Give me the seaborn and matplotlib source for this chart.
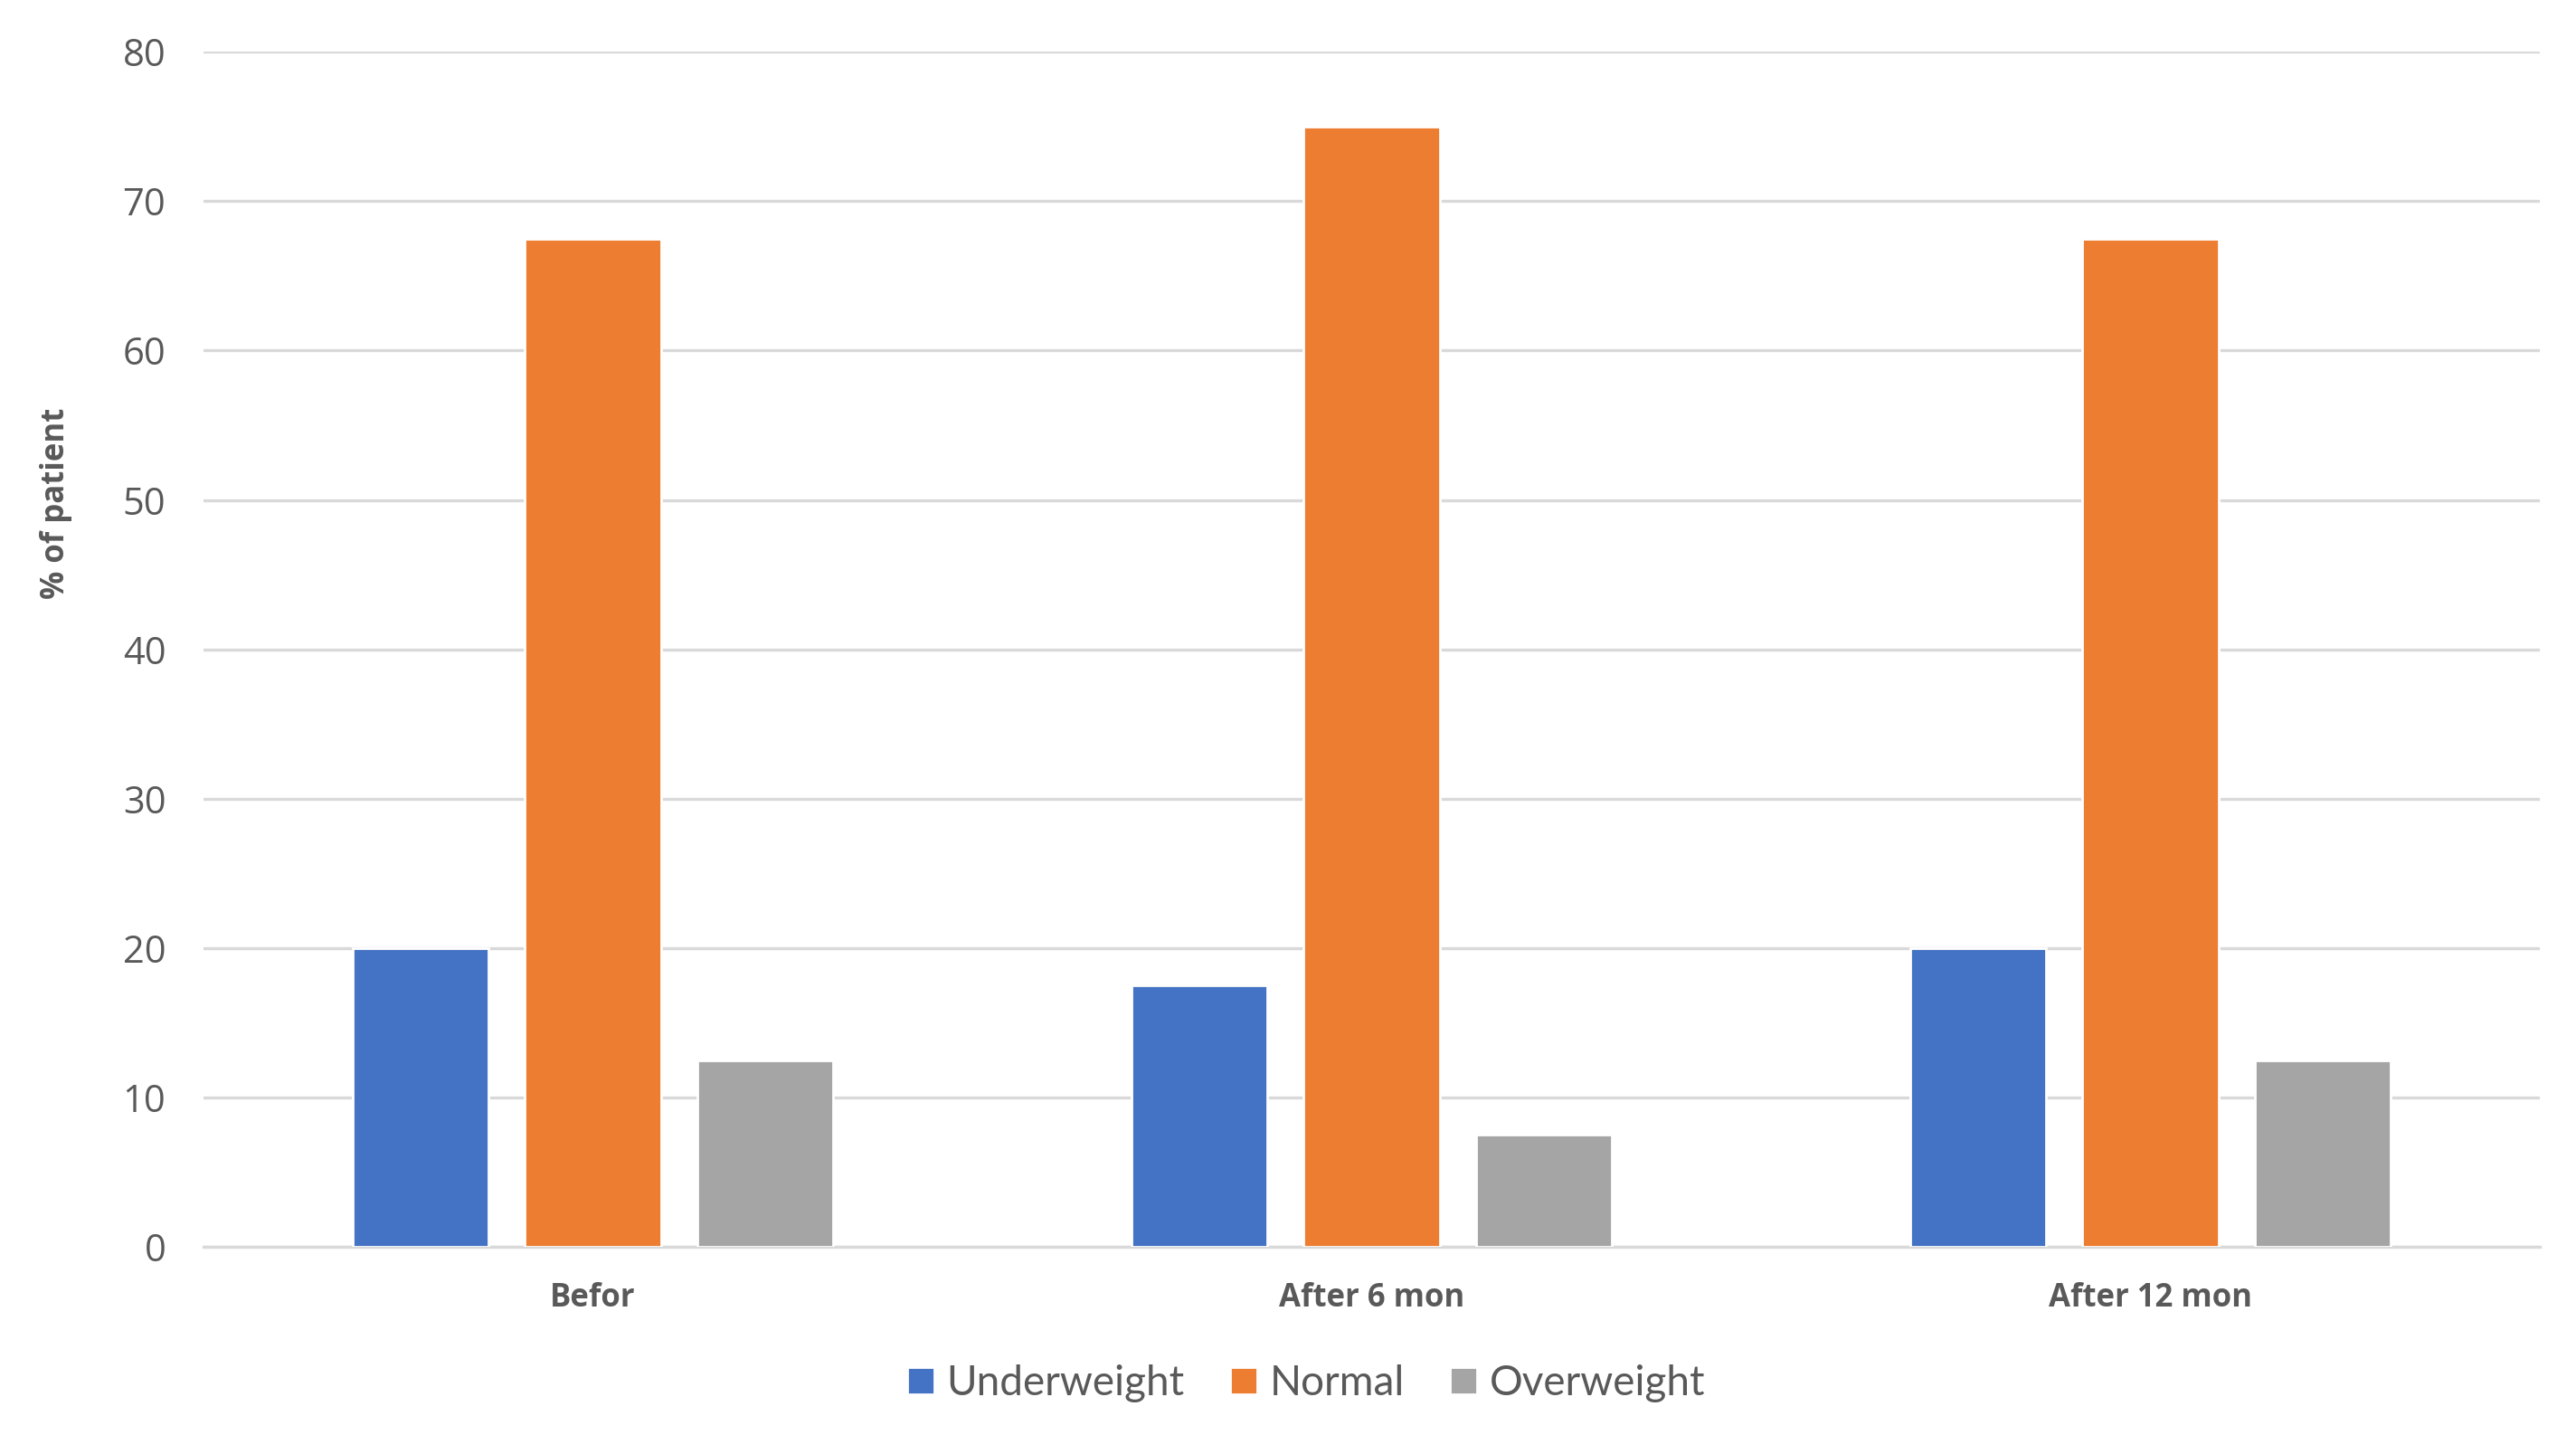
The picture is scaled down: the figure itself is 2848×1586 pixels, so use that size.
import pandas as pd
import matplotlib.pyplot as plt
import seaborn as sns

# Data
periods = ['Befor', 'After 6 mon', 'After 12 mon']
underweight = [20, 17.5, 20]
normal = [67.5, 75, 67.5]
overweight = [12.5, 7.5, 12.5]
groups = ['Underweight', 'Normal', 'Overweight']

df = pd.DataFrame({'Period': periods, 'Underweight': underweight,
                   'Normal': normal, 'Overweight': overweight})
df_melt = df.melt(id_vars='Period', value_vars=groups,
                  var_name='Group', value_name='Percent')

sns.set_style('white')
plt.rcParams['font.family'] = ['Open Sans', 'DejaVu Sans']

fig = plt.figure(figsize=(14.24, 7.93), dpi=200)
ax = fig.add_axes([0.079, 0.131, 0.907, 0.833])

sns.barplot(data=df_melt, x='Period', y='Percent', hue='Group',
            hue_order=groups, order=periods,
            palette=['#4472C4', '#ED7D31', '#A5A5A5'],
            width=0.664, gap=0.21, saturation=1, ax=ax, zorder=3)

ax.set_ylim(0, 80)
ax.set_yticks(range(0, 81, 10))
ax.set_xlim(-0.5, 2.5)
ax.grid(axis='y', color='#D9D9D9', linewidth=1.2, zorder=0)
for s in ['top', 'right', 'left']:
    ax.spines[s].set_visible(False)
ax.spines['bottom'].set_color('#D9D9D9')
ax.spines['bottom'].set_linewidth(1.2)

ax.tick_params(axis='y', length=0, pad=15, labelsize=15, labelcolor='#595959')
ax.tick_params(axis='x', length=0, pad=14, labelsize=12.5, labelcolor='#595959')
for lbl in ax.get_xticklabels():
    lbl.set_fontweight('bold')

ax.set_xlabel('')
ax.set_ylabel('% of patient', fontsize=12.5, fontweight='bold', color='#595959')
ax.yaxis.set_label_coords(-0.056, 0.622)

ax.legend_.remove()
handles, labels = ax.get_legend_handles_labels()
fig.legend(handles, labels, loc='center', bbox_to_anchor=(0.507, 0.036), ncol=3,
           frameon=False, handlelength=0.65, handleheight=0.65, handletextpad=0.3,
           columnspacing=1.1, prop={'family': ['Lato', 'DejaVu Sans'], 'size': 16.5},
           labelcolor='#595959')

plt.savefig('out.png', dpi=200)
